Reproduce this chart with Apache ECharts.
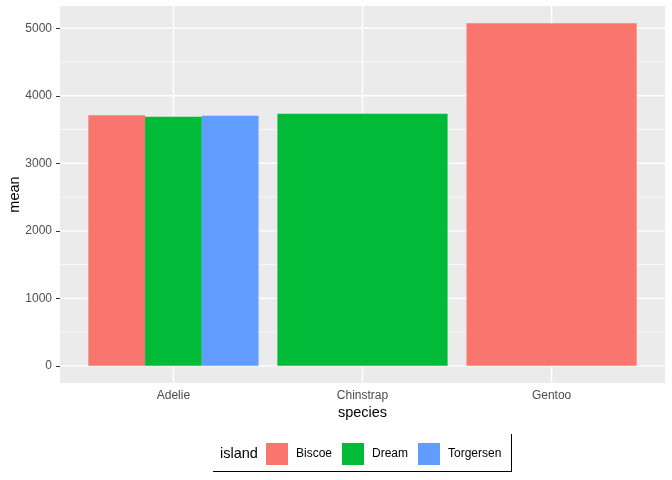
<!DOCTYPE html>
<html>
<head>
<meta charset="utf-8">
<script src="https://cdn.jsdelivr.net/npm/echarts@6/dist/echarts.min.js"></script>
<style>
  html, body { margin: 0; padding: 0; background: #fff; }
  #chart { width: 672px; height: 480px; }
</style>
</head>
<body>
<div id="chart"></div>
<script>
var species = ["Adelie", "Chinstrap", "Gentoo"]
var islands = ["Biscoe", "Dream", "Torgersen"]
var colors = ["#F8766D", "#00BA38", "#619CFF"]
// mean body mass per species x island (null = no penguins there)
var means = {
    Biscoe: [3710, null, 5076],
    Dream: [3688, 3733, null],
    Torgersen: [3706, null, null]
}
var yTicks = [0, 1000, 2000, 3000, 4000, 5000]
var yMinor = [500, 1500, 2500, 3500, 4500]

var dodge = 0.9
var font = "Liberation Sans, Arial, sans-serif"

// dodged bar positions, like ggplot position_dodge
function barData(island) {
    var out = []
    species.forEach(function (sp, si) {
        var present = islands.filter(function (isl) { return means[isl][si] != null })
        var k = present.indexOf(island)
        if (k < 0) return
        var w = dodge / present.length
        var x = (si + 1) - dodge / 2 + w * (k + 0.5)
        out.push([x, means[island][si], w])
    })
    return out
}

function renderBar(params, api) {
    var x = api.value(0), v = api.value(1), w = api.value(2)
    var p1 = api.coord([x - w / 2, v])
    var p2 = api.coord([x + w / 2, 0])
    return {
        type: "rect",
        shape: { x: p1[0], y: p1[1], width: p2[0] - p1[0], height: p2[1] - p1[1] },
        style: { fill: api.visual("color") }
    }
}

function renderGrid(params, api) {
    var cs = params.coordSys
    var dir = api.value(0), v = api.value(1), lw = api.value(2)
    if (dir === 0) {
        var y = api.coord([1, v])[1]
        return { type: "line", shape: { x1: cs.x, y1: y, x2: cs.x + cs.width, y2: y }, style: { stroke: "#fff", lineWidth: lw } }
    }
    var x = api.coord([v, 0])[0]
    return { type: "line", shape: { x1: x, y1: cs.y, x2: x, y2: cs.y + cs.height }, style: { stroke: "#fff", lineWidth: lw } }
}

var gridLines = []
yMinor.forEach(function (v) { gridLines.push([0, v, 0.7]) })
yTicks.forEach(function (v) { gridLines.push([0, v, 1.4]) })
species.forEach(function (s, i) { gridLines.push([1, i + 1, 1.4]) })

var series = [{
    type: "custom",
    name: "grid",
    renderItem: renderGrid,
    data: gridLines,
    silent: true,
    z: 1,
    encode: { x: -1, y: -1 }
}]
islands.forEach(function (isl, i) {
    series.push({
        type: "custom",
        name: isl,
        renderItem: renderBar,
        data: barData(isl),
        itemStyle: { color: colors[i] },
        encode: { x: 0, y: 1 },
        z: 2
    })
})

var yExpand = 5076 * 0.05

var chart = echarts.init(document.getElementById("chart"), null, { renderer: "canvas" })
chart.setOption({
    animation: false,
    backgroundColor: "#fff",
    textStyle: { fontFamily: font },
    grid: {
        left: 60, right: 7, top: 6, bottom: 97,
        containLabel: false, outerBoundsMode: "none",
        show: true, backgroundColor: "#EBEBEB", borderWidth: 0
    },
    xAxis: {
        type: "value",
        min: 0.4, max: 3.6,
        name: "species",
        nameLocation: "middle",
        nameGap: 22,
        nameMoveOverlap: false,
        nameTextStyle: { color: "#000", fontSize: 14.5, fontFamily: font },
        axisLine: { show: false },
        axisTick: { show: true, customValues: [1, 2, 3], length: 4, lineStyle: { color: "#333", width: 1 } },
        axisLabel: {
            customValues: [1, 2, 3], margin: 7, color: "#4D4D4D", fontSize: 12, fontFamily: font,
            formatter: function (v) { return species[Math.round(v) - 1] }
        },
        splitLine: { show: false }
    },
    yAxis: {
        type: "value",
        min: -yExpand, max: 5076 + yExpand,
        name: "mean",
        nameLocation: "middle",
        nameGap: 38,
        nameMoveOverlap: false,
        nameTextStyle: { color: "#000", fontSize: 14.5, fontFamily: font },
        axisLine: { show: false },
        axisTick: { show: true, customValues: yTicks, length: 4, lineStyle: { color: "#333", width: 1 } },
        axisLabel: {
            customValues: yTicks, margin: 8, color: "#4D4D4D", fontSize: 12, fontFamily: font,
            formatter: function (v) { return String(Math.round(v)) }
        },
        splitLine: { show: false }
    },
    legend: {
        data: islands,
        left: 266, top: 443,
        padding: 0,
        orient: "horizontal",
        icon: "rect",
        itemWidth: 22, itemHeight: 22, itemGap: 10,
        textStyle: { color: "#000", fontSize: 12, fontFamily: font, padding: [0, 0, 0, 3] },
        selectedMode: false
    },
    graphic: [
        { type: "text", left: 220, top: 446, style: { text: "island", fill: "#000", font: "14.5px " + font } },
        { type: "line", shape: { x1: 213, y1: 471.5, x2: 511.5, y2: 471.5 }, style: { stroke: "#000", lineWidth: 1 } },
        { type: "line", shape: { x1: 511.5, y1: 434, x2: 511.5, y2: 472 }, style: { stroke: "#000", lineWidth: 1 } }
    ],
    series: series
})
</script>
</body>
</html>
